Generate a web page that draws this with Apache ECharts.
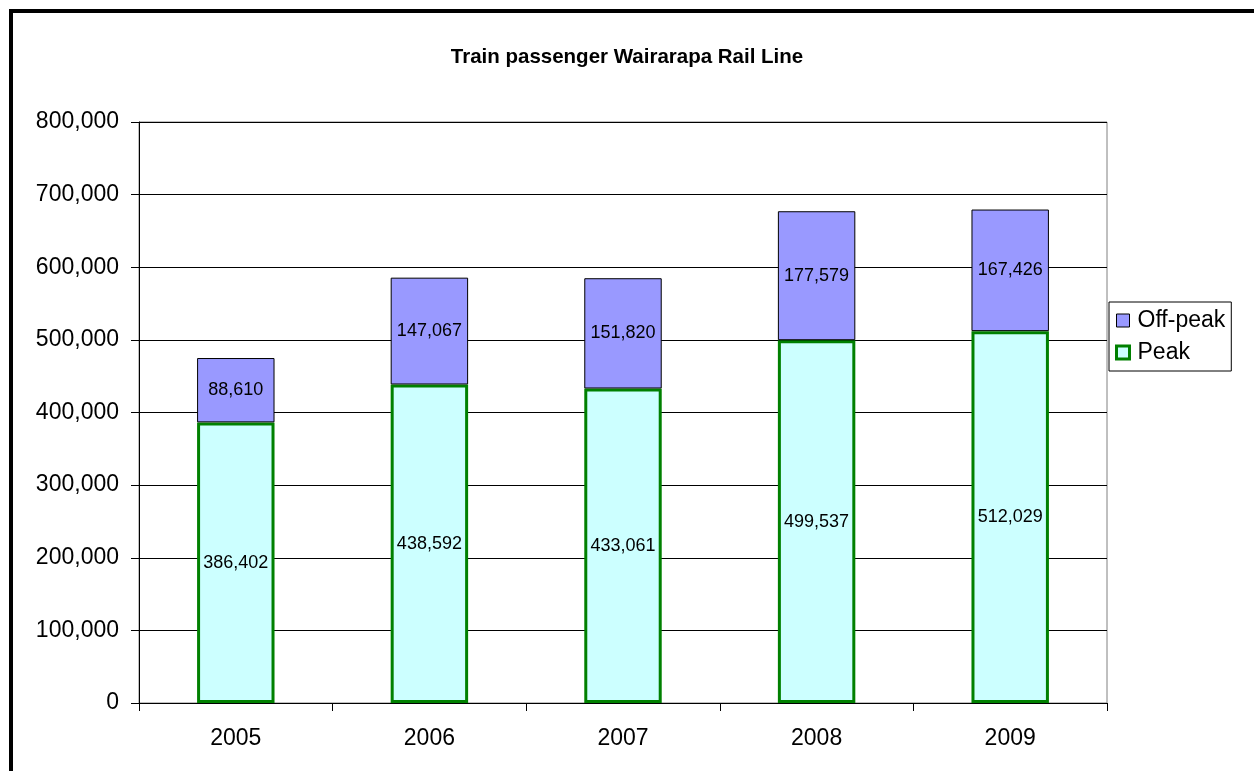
<!DOCTYPE html>
<html><head><meta charset="utf-8">
<script src="https://cdn.jsdelivr.net/npm/echarts@6/dist/echarts.min.js"></script>
<style>
html,body{margin:0;padding:0;background:#fff;}
#frame{position:absolute;left:9px;top:9px;width:1300px;height:800px;border-left:4px solid #000;border-top:4px solid #000;}
#c{position:absolute;left:0;top:0;width:1254px;height:771px;}
</style></head>
<body>
<div id="frame"></div>
<div id="c"></div>
<script>
const years = ['2005','2006','2007','2008','2009'];
const peak = [386402, 438592, 433061, 499537, 512029];
const offPeak = [88610, 147067, 151820, 177579, 167426];

const font = 'Arial, "Liberation Sans", sans-serif';
const fmt = v => Number(v).toLocaleString('en-US');

const c = echarts.init(document.getElementById('c'));
c.setOption({
  animation:false,
  title:{text:'Train passenger Wairarapa Rail Line',left:'center',top:42,
    textStyle:{fontFamily:font,fontSize:20.5,fontWeight:'bold',color:'#000'}},
  grid:{left:139,right:147,top:122,bottom:68,show:true,borderColor:'#808080',borderWidth:1},
  legend:{orient:'vertical',left:1109,top:302,
    data:[{name:'Off-peak',itemStyle:{borderWidth:1,borderColor:'#000'}},
          {name:'Peak',itemStyle:{borderWidth:3,borderColor:'#008000'}}],
    borderColor:'#000',borderWidth:1,padding:[7,6,7,6],itemGap:9,
    itemWidth:13,itemHeight:13,icon:'rect',
    textStyle:{fontFamily:font,fontSize:23,color:'#000',padding:[0,0,0,3]}},
  xAxis:{type:'category',data:years,
    axisLine:{lineStyle:{color:'#000',width:1}},
    axisTick:{show:true,length:8,lineStyle:{color:'#000'}},
    axisLabel:{fontFamily:font,fontSize:23,color:'#000',margin:24}},
  yAxis:{type:'value',min:0,max:800000,interval:100000,
    axisLine:{show:true,lineStyle:{color:'#000'}},
    axisTick:{show:true,length:8,lineStyle:{color:'#000'}},
    splitLine:{lineStyle:{color:'#000',width:1}},
    axisLabel:{fontFamily:font,fontSize:23,color:'#000',margin:20,formatter:v=>fmt(v)}},
  series:[
    {name:'Peak',type:'bar',stack:'s',barWidth:'40%',data:peak,
      itemStyle:{color:'#CCFFFF',borderColor:'#008000',borderWidth:3},
      label:{show:true,position:'inside',fontFamily:font,fontSize:18,color:'#000',formatter:p=>fmt(p.value)}},
    {name:'Off-peak',type:'bar',stack:'s',barWidth:'40%',data:offPeak,
      itemStyle:{color:'#9999FF',borderColor:'#000',borderWidth:1},
      label:{show:true,position:'inside',fontFamily:font,fontSize:18,color:'#000',formatter:p=>fmt(p.value)}}
  ]
});
</script>
</body></html>
